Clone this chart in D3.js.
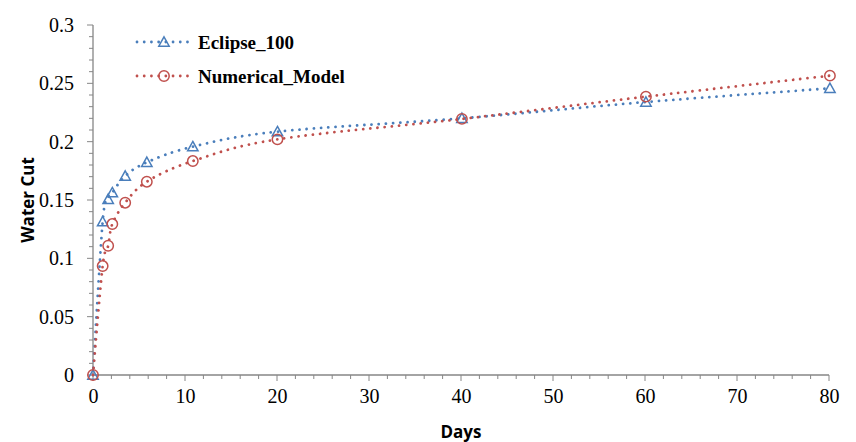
<!DOCTYPE html>
<html>
<head>
<meta charset="utf-8">
<script src="https://cdn.jsdelivr.net/npm/d3@7"></script>
<style>
  html, body { margin: 0; padding: 0; background: #fff; }
  svg { display: block; }
</style>
</head>
<body>
<svg id="chart" width="856" height="442"></svg>
<script>
// Simulation time (days) at each reported step
const days = [0, 1.05, 1.65, 2.1, 3.5, 5.85, 10.85, 20.05, 40.1, 60.1, 80.1];
// Water cut from the Eclipse 100 run
const eclipse100 = [0, 0.1314, 0.1506, 0.1563, 0.1706, 0.1823, 0.1957, 0.2086, 0.2200, 0.2340, 0.2457];
// Water cut from the numerical model
const numericalModel = [0, 0.0934, 0.1108, 0.1294, 0.1477, 0.1657, 0.1834, 0.2020, 0.2195, 0.2386, 0.2566];

const xTicks = [0, 10, 20, 30, 40, 50, 60, 70, 80];
const yTicks = [0, 0.05, 0.1, 0.15, 0.2, 0.25, 0.3];
const seriesNames = ["Eclipse_100", "Numerical_Model"];

const svg = d3.select("#chart");
const W = 856, H = 442;
const m = { left: 93, right: 27, top: 25, bottom: 67 };

const axisColor = "#868686";
const blue = "#4a7ebb", red = "#c0504d";

const x = d3.scaleLinear().domain([0, 80]).range([m.left, W - m.right]);
const y = d3.scaleLinear().domain([0, 0.3]).range([H - m.bottom, m.top]);

// Minor ticks (every 2 days / every 0.01) under the major ones
const xMinor = d3.range(0, 80.001, 2);
const yMinor = d3.range(0, 30.001, 1).map(v => v / 100);

const xAxisG = svg.append("g").attr("transform", `translate(0,${y(0)})`);
xAxisG.append("line").attr("x1", x(0)).attr("x2", x(80)).attr("stroke", axisColor).attr("stroke-width", 1.3);
xAxisG.selectAll("line.minor").data(xMinor).join("line")
  .attr("class", "minor")
  .attr("x1", d => x(d)).attr("x2", d => x(d))
  .attr("y1", 0).attr("y2", d => (d % 10 === 0 ? 6 : 4))
  .attr("stroke", axisColor).attr("stroke-width", 1);
xAxisG.call(d3.axisBottom(x).tickValues(xTicks).tickSize(0).tickPadding(0).tickFormat(d3.format("d")))
  .call(g => g.select(".domain").remove())
  .call(g => g.selectAll("text")
    .attr("dy", null)
    .attr("y", 28)
    .attr("font-family", "'Liberation Serif', 'Times New Roman', serif")
    .attr("font-size", 20)
    .attr("fill", "#000"));

const yAxisG = svg.append("g").attr("transform", `translate(${x(0)},0)`);
yAxisG.append("line").attr("y1", y(0)).attr("y2", y(0.3)).attr("stroke", axisColor).attr("stroke-width", 1.3);
yAxisG.selectAll("line.minor").data(yMinor).join("line")
  .attr("class", "minor")
  .attr("y1", d => y(d)).attr("y2", d => y(d))
  .attr("x1", d => (Math.round(d * 100) % 5 === 0 ? -6 : -4)).attr("x2", 0)
  .attr("stroke", axisColor).attr("stroke-width", 1);
yAxisG.call(d3.axisLeft(y).tickValues(yTicks).tickSize(0).tickPadding(19).tickFormat(d => String(+d.toFixed(2))))
  .call(g => g.select(".domain").remove())
  .call(g => g.selectAll("text")
    .attr("font-family", "'Liberation Serif', 'Times New Roman', serif")
    .attr("font-size", 20)
    .attr("fill", "#000"));

// Axis titles
svg.append("text")
  .attr("x", (x(0) + x(80)) / 2).attr("y", 438)
  .attr("text-anchor", "middle")
  .attr("font-family", "'Open Sans', sans-serif").attr("font-weight", 700).attr("font-size", 17)
  .text("Days");
svg.append("text")
  .attr("transform", `translate(34,${(y(0) + y(0.3)) / 2}) rotate(-90)`)
  .attr("text-anchor", "middle")
  .attr("font-family", "'Open Sans', sans-serif").attr("font-weight", 700).attr("font-size", 17)
  .text("Water Cut");

const line = d3.line()
  .x(d => x(d[0])).y(d => y(d[1]))
  .curve(d3.curveCardinal.tension(0));

const dotted = { "stroke-width": 2.8, "stroke-dasharray": "0.01 7.2", "stroke-linecap": "round" };

function triangle(g, cx, cy, color) {
  const s = 5.2;
  g.append("path")
    .attr("d", `M${cx},${cy - s}L${cx + s},${cy + s * 0.8}L${cx - s},${cy + s * 0.8}Z`)
    .attr("fill", "none").attr("stroke", color).attr("stroke-width", 1.5);
}
function circle(g, cx, cy, color) {
  g.append("circle").attr("cx", cx).attr("cy", cy).attr("r", 5.2)
    .attr("fill", "none").attr("stroke", color).attr("stroke-width", 1.5);
}

const series = [
  { name: seriesNames[0], values: eclipse100, color: blue, marker: triangle },
  { name: seriesNames[1], values: numericalModel, color: red, marker: circle }
];

series.forEach(s => {
  const pts = days.map((d, i) => [d, s.values[i]]);
  const g = svg.append("g");
  const p = g.append("path").attr("d", line(pts)).attr("fill", "none").attr("stroke", s.color);
  Object.entries(dotted).forEach(([k, v]) => p.attr(k, v));
  pts.forEach(pt => s.marker(g, x(pt[0]), y(pt[1]), s.color));
});

// Legend
const legend = svg.append("g");
series.forEach((s, i) => {
  const cy = 42 + i * 34;
  const l = legend.append("line").attr("x1", 137).attr("x2", 191).attr("y1", cy).attr("y2", cy).attr("stroke", s.color);
  Object.entries(dotted).forEach(([k, v]) => l.attr(k, v));
  s.marker(legend, 164, cy, s.color);
  legend.append("text").attr("x", 198).attr("y", cy + 7)
    .attr("font-family", "'Liberation Serif', 'Times New Roman', serif")
    .attr("font-weight", 700).attr("font-size", 19)
    .text(s.name);
});
</script>
</body>
</html>
